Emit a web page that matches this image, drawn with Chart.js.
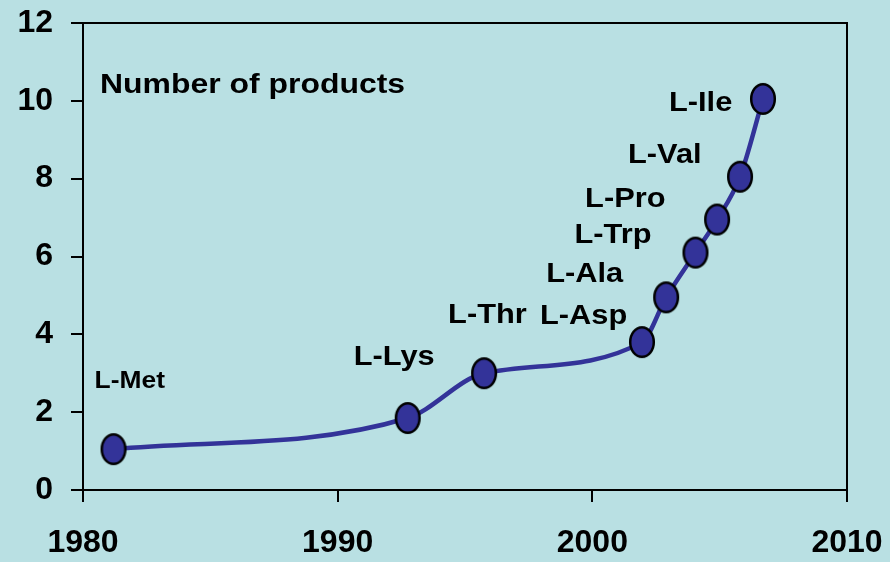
<!DOCTYPE html>
<html>
<head>
<meta charset="utf-8">
<script src="https://cdn.jsdelivr.net/npm/chart.js@4"></script>
<style>
html,body{margin:0;padding:0;background:#b9e0e3;}
#wrap{width:890px;height:562px;position:relative;}
</style>
</head>
<body>
<div id="wrap"><canvas id="c" width="890" height="562"></canvas></div>
<script>
// ---- data ----
const products = ['L-Met','L-Lys','L-Thr','L-Asp','L-Ala','L-Trp','L-Pro','L-Val','L-Ile'];
const years    = [1981.2, 1992.75, 1995.75, 2001.95, 2002.9, 2004.05, 2004.9, 2005.8, 2006.7];
const counts   = [1.05, 1.85, 3.0, 3.8, 4.95, 6.1, 6.95, 8.05, 10.05];
const yTicks   = [0, 2, 4, 6, 8, 10, 12];
const xTicks   = [1980, 1990, 2000, 2010];
const panelTitle = 'Number of products';

// ---- styles (label offsets in pixels from marker centre: left edge, baseline) ----
const labelOffsets = [[-19,-61],[-54,-53],[-36,-50],[-102,-18],[-120,-15],[-121,-10],[-132,-13],[-112,-14],[-94,12]];
const labelSizes   = [24,28,28,28,28,28,28,28,28];
const FONT = '"Liberation Sans", Arial, sans-serif';
const BG = '#b9e0e3';
const MARK = '#333399';

// ellipse marker
const mk = document.createElement('canvas');
mk.width = 28; mk.height = 34;
(function(){
  const g = mk.getContext('2d');
  g.beginPath();
  g.ellipse(14, 17, 11.8, 14.8, 0, 0, Math.PI*2);
  g.fillStyle = MARK; g.fill();
  g.lineWidth = 2.5; g.strokeStyle = '#000'; g.stroke();
})();

const points = years.map((y,i)=>({x:y, y:counts[i]}));

const bgPlugin = {
  id:'bg',
  beforeDraw(chart){
    const ctx = chart.ctx;
    ctx.save(); ctx.fillStyle = BG; ctx.fillRect(0,0,chart.width,chart.height); ctx.restore();
  }
};
const framePlugin = {
  id:'frame',
  afterDraw(chart){
    const {ctx, chartArea:a} = chart;
    ctx.save();
    ctx.strokeStyle = '#000'; ctx.lineWidth = 2;
    ctx.beginPath();
    ctx.moveTo(a.left, a.top); ctx.lineTo(a.right, a.top); ctx.lineTo(a.right, a.bottom);
    ctx.stroke();
    ctx.fillStyle = '#000';
    ctx.font = 'bold 28px ' + FONT;
    ctx.textBaseline = 'alphabetic';
    ctx.translate(a.left + 17, a.top + 70);
    ctx.scale(1.14, 1);
    ctx.fillText(panelTitle, 0, 0);
    ctx.restore();
    const meta = chart.getDatasetMeta(0);
    meta.data.forEach((el, i)=>{
      ctx.save();
      ctx.fillStyle = '#000';
      ctx.font = 'bold ' + labelSizes[i] + 'px ' + FONT;
      ctx.textBaseline = 'alphabetic';
      ctx.translate(el.x + labelOffsets[i][0], el.y + labelOffsets[i][1]);
      ctx.scale(1.1, 1);
      ctx.fillText(products[i], 0, 0);
      ctx.restore();
    });
  }
};

new Chart(document.getElementById('c'), {
  type:'line',
  data:{ datasets:[{
    data: points,
    borderColor: MARK,
    borderWidth: 4.5,
    cubicInterpolationMode: 'monotone',
    pointStyle: mk,
    pointRadius: 14,
    pointHoverRadius: 14,
    fill: false
  }]},
  options:{
    responsive:false,
    animation:false,
    events:[],
    layout:{ padding:{ top:23, right:43, left:0, bottom:0 } },
    plugins:{ legend:{display:false}, tooltip:{enabled:false} },
    scales:{
      x:{
        type:'linear', min:1980, max:2010,
        afterBuildTicks(s){ s.ticks = xTicks.map(v=>({value:v})); },
        afterFit(s){ s.height = 72; s.paddingLeft = 0; s.paddingRight = 0; },
        ticks:{ color:'#000', font:{family:FONT, size:32, weight:'bold'}, padding:22, maxRotation:0,
                callback:(v)=>String(v) },
        grid:{ drawOnChartArea:false, drawTicks:true, tickLength:12, color:'#000', lineWidth:2 },
        border:{ display:true, color:'#000', width:2 }
      },
      y:{
        type:'linear', min:0, max:12,
        afterBuildTicks(s){ s.ticks = yTicks.map(v=>({value:v})); },
        afterFit(s){ s.width = 83; s.paddingTop = 0; s.paddingBottom = 0; },
        ticks:{ color:'#000', font:{family:FONT, size:32, weight:'bold'}, padding:18 },
        grid:{ drawOnChartArea:false, drawTicks:true, tickLength:12, color:'#000', lineWidth:2 },
        border:{ display:true, color:'#000', width:2 }
      }
    }
  },
  plugins:[bgPlugin, framePlugin]
});
</script>
</body>
</html>
